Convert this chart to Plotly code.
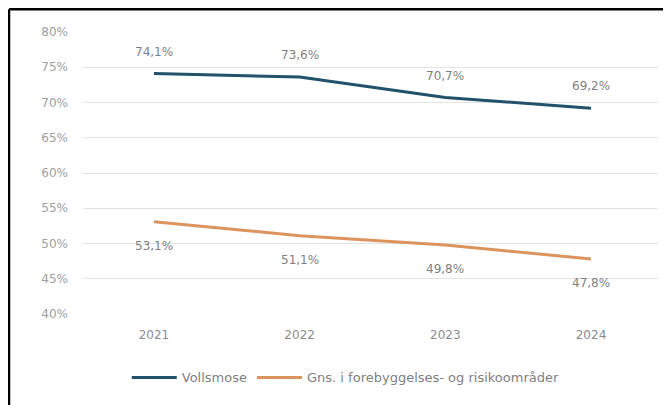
import plotly.graph_objects as go

years = ["2021", "2022", "2023", "2024"]
vollsmose = [74.1, 73.6, 70.7, 69.2]
gns = [53.1, 51.1, 49.8, 47.8]
y_ticks = [40, 45, 50, 55, 60, 65, 70, 75, 80]
name_v = "Vollsmose"
name_g = "Gns. i forebyggelses- og risikoområder"

BLUE = "#22526a"
ORANGE = "#dc935e"
FONT = "DejaVu Sans, sans-serif"

W, H = 663, 397
L, R, T, B = 75, 13, 24, 87
PW, PH = W - L - R, H - T - B

fig = go.Figure()
fig.add_trace(go.Scatter(x=years, y=vollsmose, mode="lines", name=name_v,
                         line=dict(color=BLUE, width=3)))
fig.add_trace(go.Scatter(x=years, y=gns, mode="lines", name=name_g,
                         line=dict(color=ORANGE, width=3)))

def fmt(v):
    return f"{v:.1f}".replace(".", ",") + "%"

anns = []
for i, v in enumerate(vollsmose):
    anns.append(dict(x=i, y=v, xref="x", yref="y", text=fmt(v), showarrow=False,
                     yshift=22, font=dict(size=12, color="#7f7f7f", family=FONT)))
for i, v in enumerate(gns):
    anns.append(dict(x=i, y=v, xref="x", yref="y", text=fmt(v), showarrow=False,
                     yshift=-24, font=dict(size=12, color="#7f7f7f", family=FONT)))

bx = (1 - L) / PW
by = 1 + (T - 1) / PH

fig.update_layout(
    width=W, height=H,
    margin=dict(l=L, r=R, t=T, b=B),
    paper_bgcolor="white", plot_bgcolor="white",
    font=dict(family=FONT, size=12, color="#8c8c8c"),
    separators=",.",
    annotations=anns,
    showlegend=True,
    legend=dict(orientation="h", x=0.457, xanchor="center", y=-0.225, yanchor="middle",
                font=dict(size=13, color="#7f7f7f", family=FONT),
                itemwidth=45, traceorder="normal"),
    xaxis=dict(type="category", range=[-0.487, 3.46], showgrid=False, zeroline=False,
               showline=False, ticks="", ticklabelstandoff=12,
               tickfont=dict(size=12, color="#8c8c8c")),
    yaxis=dict(range=[40, 80], tickvals=y_ticks, ticktext=[f"{t}%" for t in y_ticks],
               showgrid=True, gridcolor="#e3e3e3", gridwidth=1, zeroline=False,
               showline=False, ticks="", ticklabelstandoff=14,
               tickfont=dict(size=12, color="#a0a0a0")),
    shapes=[
        dict(type="line", xref="paper", yref="paper", x0=bx, x1=1.1, y0=by, y1=by,
             line=dict(color="black", width=2.5)),
        dict(type="line", xref="paper", yref="paper", x0=bx, x1=bx, y0=-0.35, y1=by,
             line=dict(color="black", width=2.5)),
    ],
)

fig.write_html("out.html")
